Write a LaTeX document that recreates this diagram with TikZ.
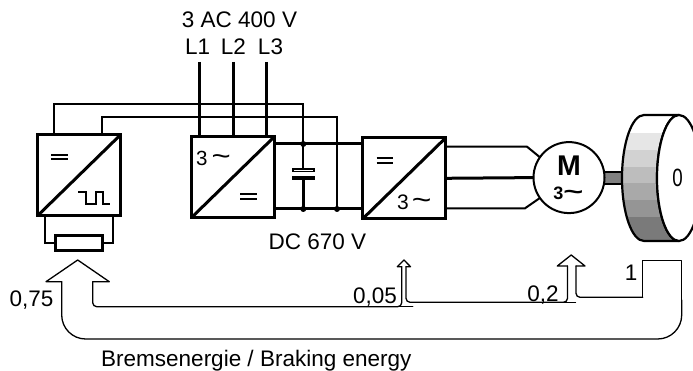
\documentclass[tikz,border=0pt]{standalone}
\usepackage{fontspec}
\setmainfont{Liberation Sans}
\usepackage{graphicx}
\definecolor{gA}{HTML}{E6E6E6}
\definecolor{gB}{HTML}{D2D2D2}
\definecolor{gC}{HTML}{BDBDBD}
\definecolor{gD}{HTML}{A9A9A9}
\definecolor{gE}{HTML}{959595}
\definecolor{gF}{HTML}{7A7A7A}
\definecolor{shaftgray}{HTML}{808080}
\begin{document}
\begin{tikzpicture}[x=1pt,y=-1pt,
  conv/.style={draw, line width=3pt, rectangle, minimum width=83pt, minimum height=81pt, inner sep=0pt, outer sep=0pt},
  wire/.style={line width=2pt},
  heavy/.style={line width=3pt},
  flow/.style={line width=1.3pt, line join=round, line cap=round},
  lbl/.style={font=\fontsize{22.5}{27}\selectfont, inner sep=0pt, anchor=base},
  dot/.style={circle, fill, inner sep=0pt, minimum size=6pt},
  bar/.style={line width=2.2pt},
]
\useasboundingbox (0,0) rectangle (693,371);

% converter boxes
\node[conv] (B1) at (79,175.3) {};
\node[conv] (B2) at (233.4,176.7) {};
\node[conv] (B3) at (404.2,178.3) {};
\foreach \b in {B1,B2,B3} \draw[heavy] (\b.south west) -- (\b.north east);

% symbols in brake chopper
\draw[bar] (51,155) -- (68,155) (51,159) -- (68,159);
\draw[line width=2pt] (78,192.5) -- (86,192.5) -- (86,204.5) -- (95.5,204.5) -- (95.5,192.5) -- (103,192.5) -- (103,204.5) -- (109.5,204.5);
% symbols in rectifier
\node[font=\fontsize{20.5}{21}\selectfont, inner sep=0pt, anchor=base west] (t3r) at (196,165.5) {3\hspace{4pt}\scalebox{1.6}[1.35]{\textasciitilde}};
\draw[bar] (240,194.3) -- (257,194.3) (240,198.7) -- (257,198.7);
% symbols in inverter
\draw[bar] (376.7,158.3) -- (393,158.3) (376.7,163) -- (393,163);
\node[font=\fontsize{21}{22}\selectfont, inner sep=0pt, anchor=base west] (t3i) at (397,209.5) {3\hspace{3pt}\scalebox{1.6}[1.35]{\textasciitilde}};

% brake resistor
\node[draw, line width=3pt, minimum width=47pt, minimum height=15pt, inner sep=0pt, outer sep=0pt] (R) at (78.7,243.4) {};
\draw[wire] ([xshift=-34pt]B1.south) |- (R.west);
\draw[wire] ([xshift=34pt]B1.south) |- (R.east);

% DC link junctions
\coordinate (jT) at (303.3,144);
\coordinate (jB) at (303.3,209);
\coordinate (jB2) at (337,209);

% wires from brake chopper to DC link
\draw[wire] ([xshift=-25pt]B1.north) -- ++(0,-30.5) -| (jT);
\draw[wire] ([xshift=23pt]B1.north) -- ++(0,-17.5) -| (jB2);

% mains
\coordinate (L1) at (199.3,62);
\coordinate (L2) at (233.3,62);
\coordinate (L3) at (266.7,62);
\foreach \l in {L1,L2,L3} \draw[heavy] (\l) -- (\l |- B2.north);
\node[lbl] (t3ac) at (239.5,28) {3 AC 400 V};
\node[lbl] (tL1) at (197.7,55) {L1};
\node[lbl] (tL2) at (233.5,55) {L2};
\node[lbl] (tL3) at (270.5,55) {L3};

% DC bus
\draw[heavy] (B2.east |- jT) -- (B3.west |- jT);
\draw[heavy] (B2.east |- jB) -- (B3.west |- jB);
\node[draw, fill=white, line width=1.5pt, minimum width=21pt, minimum height=2.5pt, inner sep=0pt, outer sep=0pt] (capT) at (303.3,170.3) {};
\node[fill=black, minimum width=22.6pt, minimum height=3.6pt, inner sep=0pt, outer sep=0pt] (capB) at (303.3,178) {};
\draw[wire] (jT) -- (capT.north);
\draw[heavy] (capB.south) -- (jB);
\foreach \j in {jT,jB,jB2} \node[dot] at (\j) {};
\node[lbl] (tDC) at (317.5,250) {DC 670 V};

% shaft, motor
\node[draw, line width=1.2pt, fill=shaftgray, minimum width=19pt, minimum height=12pt, inner sep=0pt, outer sep=0pt] (shaft) at (613,178) {};
\node[circle, draw, line width=2pt, fill=white, minimum size=71pt, inner sep=0pt, outer sep=0pt] (M) at (569,177.6) {};
\node[font=\fontsize{28.5}{29}\selectfont\bfseries, anchor=base, inner sep=0pt] (tM) at (569,176) {M};
\node[font=\fontsize{18}{19}\selectfont\bfseries, anchor=base, inner sep=0pt] (t3M) at (568.3,199.3) {3\scalebox{1.9}[1.25]{\textasciitilde}};

% inverter output
\draw[wire] (B3.east |- 0,146.7) -- (527,146.7) -- (M.145);
\draw[heavy] (B3.east) -- (M.west);
\draw[wire] (B3.east |- 0,208.3) -- (525,208.3) -- (M.215);

% flywheel
\begin{scope}
\clip (644,115) -- (679,115) arc[start angle=270,end angle=90,x radius=22,y radius=63] -- (644,241) arc[start angle=90,end angle=270,x radius=22,y radius=63] -- cycle;
\fill[white] (600,110) rectangle (700,133);
\fill[gA] (600,133) rectangle (700,150);
\fill[gB] (600,150) rectangle (700,167);
\fill[gC] (600,167) rectangle (700,183.5);
\fill[gD] (600,183.5) rectangle (700,200);
\fill[gE] (600,200) rectangle (700,217);
\fill[gF] (600,217) rectangle (700,250);
\end{scope}
\draw[line width=2.2pt, line join=round] (644,115) -- (679,115) arc[start angle=270,end angle=90,x radius=22,y radius=63] -- (644,241) arc[start angle=90,end angle=270,x radius=22,y radius=63] -- cycle;
\draw[line width=2.2pt, fill=white] (679,178) ellipse[x radius=22, y radius=63];
\node[font=\fontsize{25}{25}\selectfont, inner sep=0pt] (hub) at (677.5,177.5) {\scalebox{0.75}[1]{0}};

% energy flow (Sankey)
\draw[flow] (61.7,281.7) -- (46,281.7) -- (77.7,260) -- (109.3,281.7) -- (92.7,281.7);
\draw[flow, rounded corners=4pt] (92.7,281.7) -- (92.7,306.7) -- (401.7,306.7) -- (401.7,266.7);
\draw[flow] (401.7,266.7) -- (397.3,266.7) -- (404,260) -- (410.5,266.7) -- (406,266.7);
\draw[flow, rounded corners=4pt] (406,266.7) -- (406,302.3) -- (567.5,302.3) -- (567.5,266);
\draw[flow] (567.5,266) -- (557.3,266) -- (571.2,255) -- (585,266) -- (576,266);
\draw[flow, rounded corners=4pt] (576,266) -- (576,297.3) -- (642.7,297.3);
\draw[flow] (642.7,297.3) -- (642.7,260.7) -- (681.7,260.7) -- (681.7,300);
\draw[flow, rounded corners=24pt] (681.7,300) -- (681.7,339) -- (61.7,339) -- (61.7,281.7);
\draw[flow] (398,306.7) -- (412.7,306.7);
\draw[flow] (563,302.3) -- (575.5,302.3);

\node[lbl] (t075) at (31.5,306.7) {0,75};
\node[lbl] (t005) at (375,303.3) {0,05};
\node[lbl] (t02) at (543,301.7) {0,2};
\node[lbl] (t1) at (631,280) {1};
\node[lbl] (tB) at (256.3,366) {Bremsenergie / Braking energy};
\end{tikzpicture}
\end{document}
